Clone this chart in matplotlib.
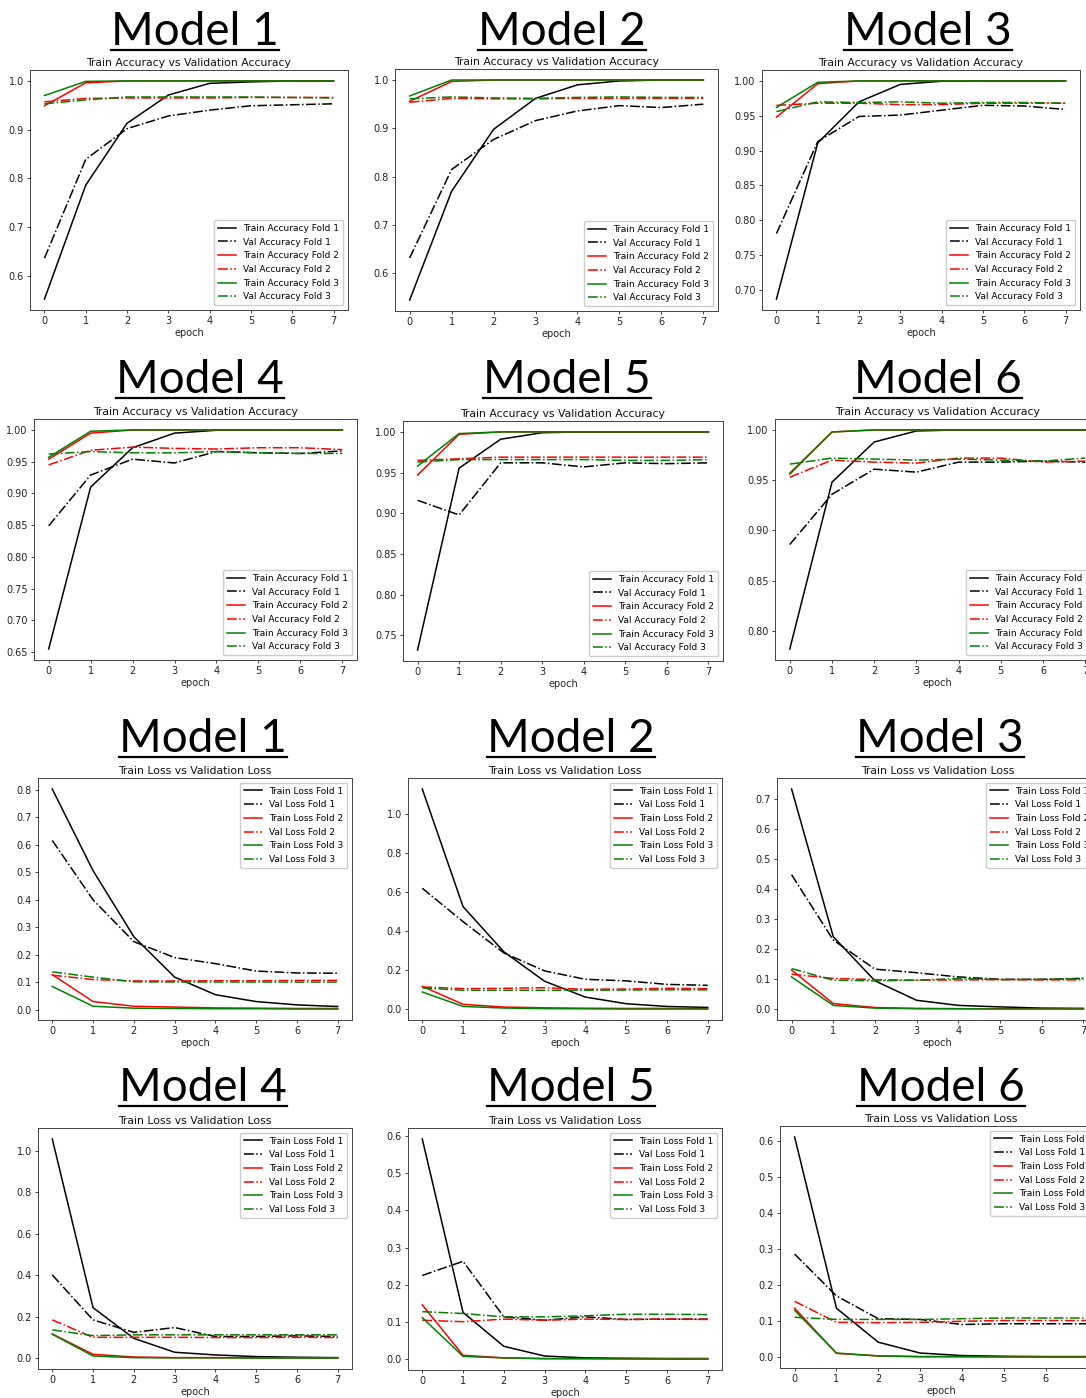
import matplotlib
matplotlib.use("Agg")
import matplotlib.pyplot as plt
from matplotlib.lines import Line2D

epochs = [0, 1, 2, 3, 4, 5, 6, 7]
model_names = ["Model 1", "Model 2", "Model 3", "Model 4", "Model 5", "Model 6"]
fold_colors = ["black", "red", "green"]

# ---- accuracy data: [train_f1, val_f1, train_f2, val_f2, train_f3, val_f3]
acc_m1_train_f1 = [0.552, 0.786, 0.913, 0.971, 0.995, 0.998, 1.0, 1.0]
acc_m1_val_f1 = [0.636, 0.839, 0.902, 0.928, 0.940, 0.949, 0.951, 0.953]
acc_m1_train_f2 = [0.949, 0.996, 1.0, 1.0, 1.0, 1.0, 1.0, 1.0]
acc_m1_val_f2 = [0.957, 0.964, 0.965, 0.965, 0.965, 0.966, 0.966, 0.966]
acc_m1_train_f3 = [0.970, 0.999, 1.0, 1.0, 1.0, 1.0, 1.0, 1.0]
acc_m1_val_f3 = [0.953, 0.961, 0.967, 0.967, 0.967, 0.967, 0.966, 0.965]

acc_m2_train_f1 = [0.545, 0.770, 0.898, 0.962, 0.990, 0.998, 1.0, 1.0]
acc_m2_val_f1 = [0.632, 0.815, 0.877, 0.916, 0.936, 0.947, 0.943, 0.950]
acc_m2_train_f2 = [0.956, 0.997, 1.0, 1.0, 1.0, 1.0, 1.0, 1.0]
acc_m2_val_f2 = [0.954, 0.962, 0.961, 0.961, 0.962, 0.962, 0.962, 0.962]
acc_m2_train_f3 = [0.967, 1.0, 1.0, 1.0, 1.0, 1.0, 1.0, 1.0]
acc_m2_val_f3 = [0.961, 0.965, 0.963, 0.962, 0.964, 0.965, 0.964, 0.964]

acc_m3_train_f1 = [0.687, 0.911, 0.970, 0.995, 0.9995, 1.0, 1.0, 1.0]
acc_m3_val_f1 = [0.781, 0.913, 0.949, 0.951, 0.958, 0.965, 0.964, 0.959]
acc_m3_train_f2 = [0.948, 0.996, 1.0, 1.0, 1.0, 1.0, 1.0, 1.0]
acc_m3_val_f2 = [0.965, 0.968, 0.968, 0.966, 0.966, 0.968, 0.968, 0.968]
acc_m3_train_f3 = [0.962, 0.998, 1.0, 1.0, 1.0, 1.0, 1.0, 1.0]
acc_m3_val_f3 = [0.956, 0.970, 0.969, 0.970, 0.968, 0.969, 0.969, 0.968]

acc_m4_train_f1 = [0.655, 0.910, 0.972, 0.995, 0.9995, 1.0, 1.0, 1.0]
acc_m4_val_f1 = [0.849, 0.929, 0.954, 0.948, 0.966, 0.964, 0.963, 0.967]
acc_m4_train_f2 = [0.954, 0.995, 1.0, 1.0, 1.0, 1.0, 1.0, 1.0]
acc_m4_val_f2 = [0.945, 0.968, 0.973, 0.971, 0.970, 0.972, 0.972, 0.969]
acc_m4_train_f3 = [0.957, 0.998, 1.0, 1.0, 1.0, 1.0, 1.0, 1.0]
acc_m4_val_f3 = [0.962, 0.966, 0.964, 0.964, 0.966, 0.964, 0.963, 0.963]

acc_m5_train_f1 = [0.732, 0.9555, 0.991, 0.999, 1.0, 1.0, 1.0, 1.0]
acc_m5_val_f1 = [0.916, 0.898, 0.962, 0.962, 0.957, 0.962, 0.961, 0.962]
acc_m5_train_f2 = [0.947, 0.997, 1.0, 1.0, 1.0, 1.0, 1.0, 1.0]
acc_m5_val_f2 = [0.965, 0.967, 0.969, 0.969, 0.969, 0.969, 0.969, 0.969]
acc_m5_train_f3 = [0.958, 0.998, 1.0, 1.0, 1.0, 1.0, 1.0, 1.0]
acc_m5_val_f3 = [0.963, 0.966, 0.966, 0.966, 0.966, 0.965, 0.965, 0.966]

acc_m6_train_f1 = [0.782, 0.948, 0.988, 0.999, 1.0, 1.0, 1.0, 1.0]
acc_m6_val_f1 = [0.886, 0.936, 0.961, 0.958, 0.968, 0.968, 0.969, 0.968]
acc_m6_train_f2 = [0.957, 0.998, 1.0, 1.0, 1.0, 1.0, 1.0, 1.0]
acc_m6_val_f2 = [0.953, 0.970, 0.968, 0.967, 0.972, 0.972, 0.968, 0.969]
acc_m6_train_f3 = [0.956, 0.998, 1.0, 1.0, 1.0, 1.0, 1.0, 1.0]
acc_m6_val_f3 = [0.966, 0.972, 0.971, 0.970, 0.971, 0.970, 0.969, 0.972]

# ---- loss data
loss_m1_train_f1 = [0.802, 0.505, 0.265, 0.118, 0.054, 0.029, 0.017, 0.011]
loss_m1_val_f1 = [0.615, 0.399, 0.247, 0.189, 0.167, 0.140, 0.133, 0.132]
loss_m1_train_f2 = [0.127, 0.029, 0.012, 0.009, 0.006, 0.005, 0.004, 0.004]
loss_m1_val_f2 = [0.125, 0.109, 0.104, 0.104, 0.105, 0.105, 0.106, 0.106]
loss_m1_train_f3 = [0.084, 0.012, 0.005, 0.004, 0.003, 0.003, 0.002, 0.002]
loss_m1_val_f3 = [0.137, 0.118, 0.101, 0.100, 0.100, 0.100, 0.100, 0.100]

loss_m2_train_f1 = [1.128, 0.526, 0.295, 0.144, 0.063, 0.029, 0.015, 0.010]
loss_m2_val_f1 = [0.620, 0.449, 0.289, 0.197, 0.154, 0.146, 0.128, 0.123]
loss_m2_train_f2 = [0.118, 0.026, 0.012, 0.008, 0.006, 0.005, 0.005, 0.004]
loss_m2_val_f2 = [0.115, 0.106, 0.108, 0.111, 0.103, 0.104, 0.108, 0.106]
loss_m2_train_f3 = [0.089, 0.015, 0.007, 0.004, 0.003, 0.002, 0.002, 0.002]
loss_m2_val_f3 = [0.110, 0.098, 0.098, 0.098, 0.098, 0.099, 0.100, 0.100]

loss_m3_train_f1 = [0.735, 0.242, 0.095, 0.030, 0.013, 0.008, 0.004, 0.003]
loss_m3_val_f1 = [0.449, 0.231, 0.134, 0.122, 0.108, 0.100, 0.100, 0.103]
loss_m3_train_f2 = [0.131, 0.019, 0.006, 0.003, 0.002, 0.002, 0.002, 0.002]
loss_m3_val_f2 = [0.117, 0.103, 0.099, 0.097, 0.098, 0.099, 0.098, 0.098]
loss_m3_train_f3 = [0.108, 0.013, 0.004, 0.002, 0.002, 0.001, 0.001, 0.001]
loss_m3_val_f3 = [0.136, 0.097, 0.095, 0.097, 0.103, 0.099, 0.100, 0.103]

loss_m4_train_f1 = [1.058, 0.244, 0.096, 0.029, 0.016, 0.008, 0.005, 0.003]
loss_m4_val_f1 = [0.402, 0.185, 0.125, 0.148, 0.105, 0.105, 0.108, 0.105]
loss_m4_train_f2 = [0.117, 0.019, 0.006, 0.003, 0.003, 0.002, 0.002, 0.002]
loss_m4_val_f2 = [0.185, 0.101, 0.101, 0.101, 0.100, 0.100, 0.101, 0.100]
loss_m4_train_f3 = [0.116, 0.011, 0.003, 0.002, 0.002, 0.001, 0.001, 0.001]
loss_m4_val_f3 = [0.137, 0.109, 0.113, 0.113, 0.113, 0.113, 0.113, 0.113]

loss_m5_train_f1 = [0.591, 0.126, 0.035, 0.009, 0.004, 0.003, 0.002, 0.002]
loss_m5_val_f1 = [0.225, 0.263, 0.114, 0.105, 0.114, 0.107, 0.108, 0.108]
loss_m5_train_f2 = [0.146, 0.011, 0.004, 0.002, 0.002, 0.002, 0.002, 0.002]
loss_m5_val_f2 = [0.105, 0.101, 0.108, 0.105, 0.108, 0.107, 0.108, 0.107]
loss_m5_train_f3 = [0.112, 0.008, 0.004, 0.002, 0.002, 0.001, 0.001, 0.001]
loss_m5_val_f3 = [0.128, 0.123, 0.114, 0.114, 0.117, 0.121, 0.121, 0.120]

loss_m6_train_f1 = [0.610, 0.136, 0.042, 0.012, 0.005, 0.003, 0.002, 0.002]
loss_m6_val_f1 = [0.286, 0.170, 0.107, 0.105, 0.091, 0.093, 0.093, 0.093]
loss_m6_train_f2 = [0.136, 0.011, 0.004, 0.002, 0.002, 0.002, 0.002, 0.002]
loss_m6_val_f2 = [0.155, 0.097, 0.096, 0.097, 0.100, 0.102, 0.102, 0.102]
loss_m6_train_f3 = [0.130, 0.012, 0.004, 0.002, 0.002, 0.001, 0.001, 0.001]
loss_m6_val_f3 = [0.111, 0.105, 0.105, 0.105, 0.107, 0.109, 0.109, 0.109]

acc_series = [
    [acc_m1_train_f1, acc_m1_val_f1, acc_m1_train_f2, acc_m1_val_f2, acc_m1_train_f3, acc_m1_val_f3],
    [acc_m2_train_f1, acc_m2_val_f1, acc_m2_train_f2, acc_m2_val_f2, acc_m2_train_f3, acc_m2_val_f3],
    [acc_m3_train_f1, acc_m3_val_f1, acc_m3_train_f2, acc_m3_val_f2, acc_m3_train_f3, acc_m3_val_f3],
    [acc_m4_train_f1, acc_m4_val_f1, acc_m4_train_f2, acc_m4_val_f2, acc_m4_train_f3, acc_m4_val_f3],
    [acc_m5_train_f1, acc_m5_val_f1, acc_m5_train_f2, acc_m5_val_f2, acc_m5_train_f3, acc_m5_val_f3],
    [acc_m6_train_f1, acc_m6_val_f1, acc_m6_train_f2, acc_m6_val_f2, acc_m6_train_f3, acc_m6_val_f3],
]
loss_series = [
    [loss_m1_train_f1, loss_m1_val_f1, loss_m1_train_f2, loss_m1_val_f2, loss_m1_train_f3, loss_m1_val_f3],
    [loss_m2_train_f1, loss_m2_val_f1, loss_m2_train_f2, loss_m2_val_f2, loss_m2_train_f3, loss_m2_val_f3],
    [loss_m3_train_f1, loss_m3_val_f1, loss_m3_train_f2, loss_m3_val_f2, loss_m3_train_f3, loss_m3_val_f3],
    [loss_m4_train_f1, loss_m4_val_f1, loss_m4_train_f2, loss_m4_val_f2, loss_m4_train_f3, loss_m4_val_f3],
    [loss_m5_train_f1, loss_m5_val_f1, loss_m5_train_f2, loss_m5_val_f2, loss_m5_train_f3, loss_m5_val_f3],
    [loss_m6_train_f1, loss_m6_val_f1, loss_m6_train_f2, loss_m6_val_f2, loss_m6_train_f3, loss_m6_val_f3],
]

W, H = 1086, 1398
fig = plt.figure(figsize=(W / 100, H / 100), dpi=100)
fig.patch.set_facecolor("white")

# panel boxes in pixels (left, top, right, bottom)
acc_boxes = [(30, 70, 348, 310), (395, 69, 718, 311), (762, 70, 1080, 310),
             (34, 419, 357, 660), (403, 421, 723, 661), (775, 419, 1100, 660)]
loss_boxes = [(38, 778, 352, 1020), (408, 778, 722, 1020), (777, 778, 1098, 1020),
              (38, 1128, 352, 1369), (408, 1128, 722, 1370), (780, 1126, 1102, 1368)]
# big title centre x and centre y (pixels)
acc_titles = [(195, 32), (562, 32), (928, 32), (200, 380), (567, 380), (938, 380)]
loss_titles = [(203, 739), (571, 739), (940, 739), (203, 1088), (571, 1088), (941, 1088)]

fs = 7


def draw_panel(box, title_pos, name, series, kind):
    l, t, r, b = box
    ax = fig.add_axes([l / W, (H - b) / H, (r - l) / W, (b - t) / H])
    lab = "Accuracy" if kind == "acc" else "Loss"
    for i in range(3):
        ax.plot(epochs, series[2 * i], color=fold_colors[i], lw=1.1, ls="-",
                label=f"Train {lab} Fold {i + 1}")
        ax.plot(epochs, series[2 * i + 1], color=fold_colors[i], lw=1.1, ls="-.",
                label=f"Val {lab} Fold {i + 1}")
    ax.set_xticks(epochs)
    ax.tick_params(labelsize=fs, length=2.5, width=0.6, pad=2, colors="#222222")
    for s in ax.spines.values():
        s.set_linewidth(0.7)
        s.set_color("#444444")
    ax.set_xlabel("epoch", fontsize=fs, labelpad=1, color="#222222")
    loc = "lower right" if kind == "acc" else "upper right"
    ax.legend(loc=loc, fontsize=6.5, handlelength=2.0, labelspacing=0.52,
              borderpad=0.45, framealpha=1.0, edgecolor="#cccccc", fancybox=True)
    sub = "Train Accuracy vs Validation Accuracy" if kind == "acc" else "Train Loss vs Validation Loss"
    ax.set_title(sub, fontsize=7.8, pad=3, color="#111111")
    cx, cy = title_pos
    fig.text(cx / W, (H - cy) / H, name, fontsize=33, family="Lato",
             ha="center", va="center", color="black")
    # underline
    uy = (H - (cy + 18)) / H
    fig.add_artist(Line2D([(cx - 84) / W, (cx + 84) / W], [uy, uy], color="black", lw=1.6))
    return ax


for k in range(6):
    draw_panel(acc_boxes[k], acc_titles[k], model_names[k], acc_series[k], "acc")
    draw_panel(loss_boxes[k], loss_titles[k], model_names[k], loss_series[k], "loss")

fig.savefig("out.png", dpi=100)
